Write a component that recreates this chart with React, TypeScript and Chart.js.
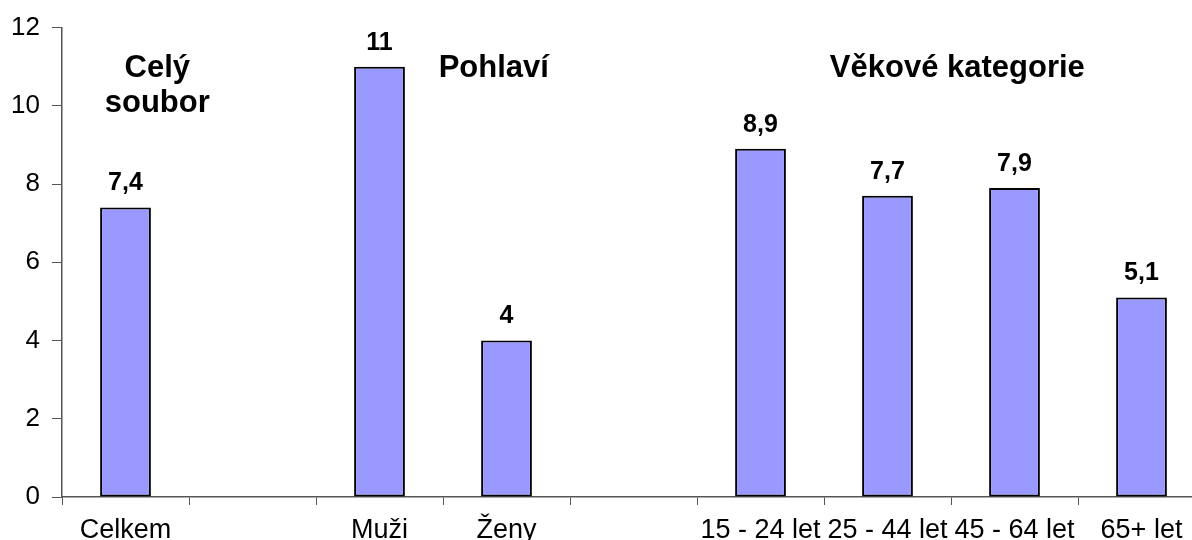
import React, { useEffect, useRef } from "react";
import { Chart, registerables } from "chart.js";

Chart.register(...registerables);

const categories = ["Celkem", "", "Muži", "Ženy", "", "15 - 24 let", "25 - 44 let", "45 - 64 let", "65+ let"];
const values: (number | null)[] = [7.4, null, 11, 4, null, 8.9, 7.7, 7.9, 5.1];
const valueLabels = ["7,4", "", "11", "4", "", "8,9", "7,7", "7,9", "5,1"];
const yTicks = [0, 2, 4, 6, 8, 10, 12];
// group headings: text lines, anchored at a category index position and a y value
const headingLines = ["Celý", "soubor", "Pohlaví", "Věkové kategorie"];
const headingIndex = [0.25, 0.25, 2.9, 6.55];
const headingValue = [10.95, 10.05, 10.95, 10.95];

const FONT = "'Liberation Sans', Arial, sans-serif";

const labelsPlugin = {
  id: "labelsPlugin",
  afterDatasetsDraw(chart: any) {
    const ctx = chart.ctx;
    const meta = chart.getDatasetMeta(0);
    ctx.save();
    ctx.fillStyle = "#000";
    ctx.textAlign = "center";
    ctx.textBaseline = "middle";
    ctx.font = `bold 25px ${FONT}`;
    meta.data.forEach((el: any, i: number) => {
      if (values[i] == null) return;
      ctx.fillText(valueLabels[i], el.x, el.y - 24);
    });
    const xs = chart.scales.x;
    const ys = chart.scales.y;
    ctx.font = `bold 31px ${FONT}`;
    headingLines.forEach((t, i) => {
      const x = xs.getPixelForValue(headingIndex[i]);
      const y = ys.getPixelForValue(headingValue[i]);
      ctx.fillText(t, x, y);
    });
    ctx.restore();
  },
};

export default function App() {
  const ref = useRef<HTMLCanvasElement | null>(null);
  useEffect(() => {
    document.body.style.margin = "0";
    const chart = new Chart(ref.current as HTMLCanvasElement, {
      type: "bar",
      data: {
        labels: categories,
        datasets: [
          {
            data: values,
            backgroundColor: "#9999FF",
            borderColor: "#000000",
            borderWidth: 2,
            borderSkipped: false,
            barPercentage: 0.4,
            categoryPercentage: 1,
          },
        ],
      },
      options: {
        responsive: false,
        animation: false,
        layout: { padding: { top: 26, right: 0, left: 0, bottom: 0 } },
        plugins: { legend: { display: false }, tooltip: { enabled: false } },
        scales: {
          x: {
            offset: true,
            grid: { display: true, offset: true, drawOnChartArea: false, drawTicks: true, tickLength: 8, color: "#555" },
            border: { display: true, color: "#555", width: 1.5 },
            ticks: {
              autoSkip: false,
              maxRotation: 0,
              minRotation: 0,
              color: "#000",
              padding: 9,
              font: { family: FONT, size: 27 },
            },
            afterFit(scale: any) {
              scale.height = 43;
            },
          },
          y: {
            min: 0,
            max: 12,
            afterBuildTicks(scale: any) {
              scale.ticks = yTicks.map((v) => ({ value: v }));
            },
            grid: { display: true, drawOnChartArea: false, drawTicks: true, tickLength: 10, color: "#555" },
            border: { display: true, color: "#555", width: 1.5 },
            ticks: {
              color: "#000",
              padding: 12,
              font: { family: FONT, size: 26 },
            },
            afterFit(scale: any) {
              scale.width = 62;
            },
          },
        },
      },
      plugins: [labelsPlugin],
    });
    return () => chart.destroy();
  }, []);
  return (
    <div style={{ position: "absolute", left: 0, top: 0, width: 1192, height: 540, overflow: "hidden", background: "#fff" }}>
      <canvas ref={ref} width={1205} height={540} style={{ display: "block" }} />
    </div>
  );
}
